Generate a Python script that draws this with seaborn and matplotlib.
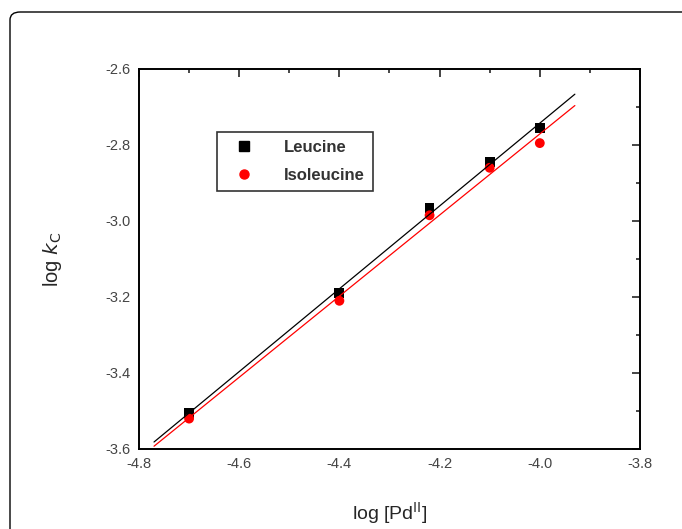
import numpy as np
import pandas as pd
import matplotlib.pyplot as plt
import seaborn as sns
from matplotlib.patches import FancyBboxPatch
from matplotlib.lines import Line2D
from matplotlib.ticker import MultipleLocator

sns.set_style("white")
plt.rcParams["font.family"] = ["Liberation Sans", "DejaVu Sans"]

# data
log_pd = [-4.7, -4.4, -4.22, -4.1, -4.0]
leucine = [-3.505, -3.19, -2.965, -2.845, -2.755]
isoleucine = [-3.52, -3.21, -2.985, -2.86, -2.795]
fit_range = [-4.77, -3.93]

df = pd.DataFrame({
    "x": log_pd * 2,
    "y": leucine + isoleucine,
    "amino": ["Leucine"] * 5 + ["Isoleucine"] * 5,
})

fig = plt.figure(figsize=(6.82, 5.29), dpi=100)
ax = fig.add_axes([139 / 682, 1 - 449 / 529, 501 / 682, 380 / 529])

# rounded frame around the figure (cut at right/bottom like the source)
frame = FancyBboxPatch((10 / 682, -0.1), 1.2, 1 - 12 / 529 + 0.1,
                       boxstyle="round,pad=0,rounding_size=0.015",
                       transform=fig.transFigure, fill=False,
                       edgecolor="black", linewidth=1.0, clip_on=False)
fig.patches.append(frame)

# linear fits
xs = np.array(fit_range)
for vals, col in [(leucine, "black"), (isoleucine, "red")]:
    k, b = np.polyfit(log_pd, vals, 1)
    sns.lineplot(x=xs, y=k * xs + b, color=col, linewidth=0.9, ax=ax)

sns.scatterplot(data=df, x="x", y="y", hue="amino", style="amino",
                palette={"Leucine": "black", "Isoleucine": "red"},
                markers={"Leucine": "s", "Isoleucine": "o"},
                s=50, edgecolor="none", ax=ax, legend=False)

ax.set_xlim(-4.8, -3.8)
ax.set_ylim(-3.6, -2.6)
ax.xaxis.set_minor_locator(MultipleLocator(0.1))
ax.yaxis.set_minor_locator(MultipleLocator(0.1))
ax.set_xticks(np.arange(-4.8, -3.79, 0.2))
ax.set_xticklabels(["-4.8", "-4.6", "-4.4", "-4.2", "-4.0", "-3.8"])
ax.set_yticks(np.arange(-3.6, -2.59, 0.2))
ax.set_yticklabels(["-3.6", "-3.4", "-3.2", "-3.0", "-2.8", "-2.6"])
ax.tick_params(which="both", direction="in", top=True, right=True,
               labelsize=10.5, labelcolor="#444444", width=1.2)
ax.tick_params(which="major", length=6, pad=6)
ax.tick_params(which="minor", length=3)
for sp in ax.spines.values():
    sp.set_linewidth(1.4)
    sp.set_color("black")

ax.set_xlabel(r"log [Pd$^{\mathrm{II}}$]", fontsize=14, labelpad=21)
ax.set_ylabel(r"log $k_{\mathrm{C}}$", fontsize=14.5, labelpad=30)

# legend box
handles = [Line2D([], [], marker="s", color="black", ls="none", markersize=6.5),
           Line2D([], [], marker="o", color="red", ls="none", markersize=6.5)]
leg = ax.legend(handles, ["Leucine", "Isoleucine"], loc="upper left",
                bbox_to_anchor=(78 / 501, 1 - 63 / 380), borderaxespad=0,
                frameon=True, fancybox=False, edgecolor="black",
                handletextpad=1.3, borderpad=0.5, labelspacing=0.75,
                handlelength=2.2, prop={"weight": "bold", "size": 12})
leg.get_frame().set_linewidth(1.2)
for t in leg.get_texts():
    t.set_color("#333333")

fig.savefig("out.png", dpi=100)
